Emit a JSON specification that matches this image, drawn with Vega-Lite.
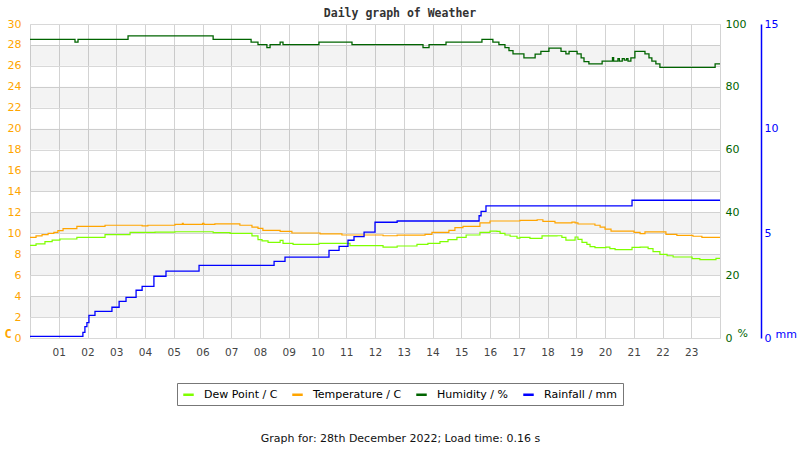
{
  "$schema": "https://vega.github.io/schema/vega-lite/v6.json",
  "width": 690,
  "height": 314,
  "autosize": {"type": "none"},
  "padding": {"left": 30, "top": 24, "right": 80, "bottom": 112},
  "background": "white",
  "config": {
    "view": {"stroke": "#d3d3d3"},
    "font": "DejaVu Sans",
    "axis": {"labelOverlap": false},
    "legend": {
      "orient": "none",
      "legendX": 147,
      "legendY": 359,
      "direction": "horizontal",
      "strokeColor": "#777777",
      "padding": 5,
      "symbolType": "stroke",
      "symbolStrokeWidth": 2.5,
      "symbolSize": 110,
      "labelFontSize": 11,
      "labelFont": "DejaVu Sans",
      "labelColor": "#000000",
      "columnPadding": 9,
      "labelOffset": 9
    }
  },
  "title": {
    "text": "Daily graph of Weather",
    "font": "DejaVu Sans Mono",
    "fontSize": 11.5,
    "fontWeight": "bold",
    "color": "#333333",
    "anchor": "middle",
    "dx": 25,
    "dy": 7,
    "offset": 6
  },
  "datasets": {
    "bands": [
      {"lo": 2, "hi": 4}, {"lo": 6, "hi": 8}, {"lo": 10, "hi": 12}, {"lo": 14, "hi": 16},
      {"lo": 18, "hi": 20}, {"lo": 22, "hi": 24}, {"lo": 26, "hi": 28}
    ],
    "temp": [
      {"h": 0, "v": 9.62}, {"h": 0.21, "v": 9.75}, {"h": 0.42, "v": 9.87}, {"h": 0.63, "v": 10.0},
      {"h": 0.83, "v": 10.1}, {"h": 0.97, "v": 10.25}, {"h": 1.15, "v": 10.45}, {"h": 1.63, "v": 10.67},
      {"h": 2.61, "v": 10.77}, {"h": 3.9, "v": 10.72}, {"h": 4.1, "v": 10.77}, {"h": 5.04, "v": 10.86},
      {"h": 5.3, "v": 10.95}, {"h": 5.33, "v": 10.86}, {"h": 6.0, "v": 10.95}, {"h": 6.05, "v": 10.86},
      {"h": 6.43, "v": 10.9}, {"h": 7.3, "v": 10.77}, {"h": 7.72, "v": 10.6}, {"h": 7.93, "v": 10.48},
      {"h": 8.1, "v": 10.29}, {"h": 8.7, "v": 10.19}, {"h": 9.11, "v": 10.03}, {"h": 10.09, "v": 9.94},
      {"h": 10.85, "v": 9.84}, {"h": 12.28, "v": 9.77}, {"h": 12.77, "v": 9.82}, {"h": 13.74, "v": 9.9},
      {"h": 13.98, "v": 10.1}, {"h": 14.57, "v": 10.29}, {"h": 14.78, "v": 10.54}, {"h": 15.06, "v": 10.67},
      {"h": 15.65, "v": 10.99}, {"h": 16.0, "v": 11.18}, {"h": 17.04, "v": 11.24}, {"h": 17.64, "v": 11.3},
      {"h": 17.84, "v": 11.15}, {"h": 18.26, "v": 10.99}, {"h": 18.85, "v": 11.08}, {"h": 18.96, "v": 10.99},
      {"h": 19.06, "v": 10.89}, {"h": 19.65, "v": 10.77}, {"h": 19.83, "v": 10.6}, {"h": 20.0, "v": 10.41},
      {"h": 20.21, "v": 10.22}, {"h": 21.01, "v": 10.1}, {"h": 21.22, "v": 9.97}, {"h": 21.39, "v": 10.13},
      {"h": 22.12, "v": 9.9}, {"h": 22.5, "v": 9.81}, {"h": 23.06, "v": 9.72}, {"h": 23.37, "v": 9.62},
      {"h": 24, "v": 9.62}
    ],
    "dew": [
      {"h": 0, "v": 8.85}, {"h": 0.21, "v": 9.0}, {"h": 0.52, "v": 9.2}, {"h": 0.77, "v": 9.35},
      {"h": 1.04, "v": 9.46}, {"h": 1.63, "v": 9.62}, {"h": 2.61, "v": 9.87}, {"h": 3.48, "v": 10.1},
      {"h": 4.35, "v": 10.12}, {"h": 5.04, "v": 10.15}, {"h": 6.37, "v": 10.06}, {"h": 6.96, "v": 10.0},
      {"h": 7.72, "v": 9.75}, {"h": 7.93, "v": 9.39}, {"h": 8.07, "v": 9.27}, {"h": 8.28, "v": 9.14},
      {"h": 8.7, "v": 9.33}, {"h": 8.8, "v": 9.05}, {"h": 9.15, "v": 8.95}, {"h": 10.05, "v": 9.05},
      {"h": 11.13, "v": 8.82}, {"h": 12.28, "v": 8.69}, {"h": 12.77, "v": 8.79}, {"h": 13.46, "v": 8.95},
      {"h": 13.84, "v": 9.05}, {"h": 14.26, "v": 9.2}, {"h": 14.54, "v": 9.39}, {"h": 14.85, "v": 9.62},
      {"h": 15.17, "v": 9.84}, {"h": 15.65, "v": 10.1}, {"h": 16.0, "v": 10.22}, {"h": 16.24, "v": 10.19},
      {"h": 16.35, "v": 10.0}, {"h": 16.52, "v": 9.84}, {"h": 16.7, "v": 9.72}, {"h": 16.94, "v": 9.55},
      {"h": 17.04, "v": 9.62}, {"h": 17.39, "v": 9.52}, {"h": 17.81, "v": 9.75}, {"h": 18.33, "v": 9.77},
      {"h": 18.5, "v": 9.62}, {"h": 18.64, "v": 9.36}, {"h": 18.96, "v": 9.65}, {"h": 19.06, "v": 9.43},
      {"h": 19.2, "v": 9.14}, {"h": 19.37, "v": 8.95}, {"h": 19.48, "v": 8.73}, {"h": 19.65, "v": 8.63},
      {"h": 20.03, "v": 8.69}, {"h": 20.17, "v": 8.53}, {"h": 20.35, "v": 8.44}, {"h": 20.94, "v": 8.66},
      {"h": 21.22, "v": 8.69}, {"h": 21.5, "v": 8.53}, {"h": 21.67, "v": 8.25}, {"h": 21.91, "v": 7.99},
      {"h": 22.16, "v": 7.86}, {"h": 22.37, "v": 7.74}, {"h": 23.03, "v": 7.58}, {"h": 23.3, "v": 7.48},
      {"h": 23.86, "v": 7.61}, {"h": 24, "v": 7.61}
    ],
    "hum": [
      {"h": 0, "v": 95.1}, {"h": 1.565, "v": 94.2}, {"h": 1.67, "v": 95.1}, {"h": 3.41, "v": 96.2},
      {"h": 6.37, "v": 95.1}, {"h": 7.69, "v": 94.2}, {"h": 7.93, "v": 93.4}, {"h": 8.24, "v": 92.5},
      {"h": 8.35, "v": 93.4}, {"h": 8.7, "v": 94.2}, {"h": 8.8, "v": 93.4}, {"h": 10.05, "v": 94.2},
      {"h": 11.2, "v": 93.4}, {"h": 13.67, "v": 92.5}, {"h": 13.88, "v": 93.4}, {"h": 14.47, "v": 94.2},
      {"h": 15.72, "v": 95.1}, {"h": 16.1, "v": 94.2}, {"h": 16.31, "v": 93.4}, {"h": 16.52, "v": 92.5},
      {"h": 16.66, "v": 91.5}, {"h": 16.8, "v": 90.5}, {"h": 17.18, "v": 89.2}, {"h": 17.57, "v": 90.4},
      {"h": 17.77, "v": 91.3}, {"h": 18.05, "v": 92.3}, {"h": 18.47, "v": 91.3}, {"h": 18.64, "v": 90.5},
      {"h": 18.75, "v": 91.3}, {"h": 19.03, "v": 90.5}, {"h": 19.17, "v": 89.2}, {"h": 19.27, "v": 88.0},
      {"h": 19.44, "v": 87.3}, {"h": 19.9, "v": 88.2}, {"h": 20.26, "v": 89.3}, {"h": 20.3, "v": 88.2},
      {"h": 20.45, "v": 89.0}, {"h": 20.5, "v": 88.2}, {"h": 20.6, "v": 89.0}, {"h": 20.67, "v": 88.5},
      {"h": 20.75, "v": 89.0}, {"h": 20.8, "v": 88.2}, {"h": 20.9, "v": 89.2}, {"h": 21.04, "v": 91.3},
      {"h": 21.39, "v": 90.5}, {"h": 21.53, "v": 89.2}, {"h": 21.63, "v": 88.2}, {"h": 21.77, "v": 87.3},
      {"h": 21.91, "v": 86.2}, {"h": 23.83, "v": 87.3}, {"h": 24, "v": 87.3}
    ],
    "rain": [
      {"h": 0, "v": 0.08}, {"h": 1.84, "v": 0.27}, {"h": 1.91, "v": 0.54}, {"h": 1.98, "v": 0.73},
      {"h": 2.05, "v": 1.08}, {"h": 2.26, "v": 1.27}, {"h": 2.85, "v": 1.47}, {"h": 3.1, "v": 1.75},
      {"h": 3.34, "v": 1.94}, {"h": 3.69, "v": 2.28}, {"h": 3.9, "v": 2.47}, {"h": 4.31, "v": 2.95},
      {"h": 4.73, "v": 3.19}, {"h": 5.88, "v": 3.47}, {"h": 8.49, "v": 3.66}, {"h": 8.87, "v": 3.86},
      {"h": 10.4, "v": 4.19}, {"h": 10.75, "v": 4.38}, {"h": 11.06, "v": 4.67}, {"h": 11.27, "v": 4.84},
      {"h": 11.62, "v": 5.06}, {"h": 12.0, "v": 5.53}, {"h": 12.77, "v": 5.59}, {"h": 15.62, "v": 5.84},
      {"h": 15.69, "v": 6.05}, {"h": 15.86, "v": 6.31}, {"h": 20.94, "v": 6.58}, {"h": 24, "v": 6.58}
    ]
  },
  "layer": [
    {
      "layer": [
        {
          "data": {"name": "bands"},
          "mark": {"type": "rect", "color": "#000000", "opacity": 0.048},
          "encoding": {
            "y": {
              "field": "lo", "type": "quantitative",
              "scale": {"domain": [0, 30], "nice": false, "zero": false},
              "axis": {
                "orient": "left", "values": [0, 2, 4, 6, 8, 10, 12, 14, 16, 18, 20, 22, 24, 26, 28, 30],
                "grid": true, "gridColor": "#d8d8d8", "ticks": false, "domain": false, "labelOverlap": false,
                "labelColor": "#ffa500", "labelFontSize": 11, "labelFont": "DejaVu Sans", "labelPadding": 9,
                "title": "C", "titleColor": "#ffa500", "titleAngle": 0, "titleX": -26, "titleY": 309,
                "titleFontSize": 12, "titleFont": "DejaVu Sans Mono", "titleFontWeight": "bold",
                "titleAlign": "left", "titleBaseline": "middle"
              }
            },
            "y2": {"field": "hi"}
          }
        },
        {
          "data": {"name": "dew"},
          "mark": {"type": "line", "interpolate": "step-after", "strokeWidth": 1.2},
          "encoding": {
            "x": {
              "field": "h", "type": "quantitative",
              "scale": {"domain": [0, 24], "nice": false, "zero": false},
              "axis": {
                "values": [1, 2, 3, 4, 5, 6, 7, 8, 9, 10, 11, 12, 13, 14, 15, 16, 17, 18, 19, 20, 21, 22, 23],
                "labelExpr": "datum.value < 10 ? '0' + datum.value : '' + datum.value",
                "grid": true, "gridColor": "#d3d3d3", "ticks": false, "domain": false, "labelOverlap": false,
                "labelColor": "#444444", "labelFontSize": 10.5, "labelFont": "DejaVu Sans", "labelPadding": 9,
                "title": "Graph for: 28th December 2022; Load time: 0.16 s",
                "titleFont": "DejaVu Sans", "titleFontWeight": "normal", "titleFontSize": 11,
                "titleColor": "#111111", "titlePadding": 75, "titleX": 370, "titleAlign": "center"
              }
            },
            "y": {
              "field": "v", "type": "quantitative",
              "axis": {
                "orient": "left", "values": [0, 2, 4, 6, 8, 10, 12, 14, 16, 18, 20, 22, 24, 26, 28, 30],
                "grid": true, "gridColor": "#d8d8d8", "ticks": false, "domain": false, "labelOverlap": false,
                "labelColor": "#ffa500", "labelFontSize": 11, "labelFont": "DejaVu Sans", "labelPadding": 9,
                "title": "C", "titleColor": "#ffa500", "titleAngle": 0, "titleX": -26, "titleY": 309,
                "titleFontSize": 12, "titleFont": "DejaVu Sans Mono", "titleFontWeight": "bold",
                "titleAlign": "left", "titleBaseline": "middle"
              }
            },
            "color": {
              "datum": "Dew Point / C",
              "type": "nominal",
              "scale": {
                "domain": ["Dew Point / C", "Temperature / C", "Humidity / %", "Rainfall / mm"],
                "range": ["#7fff00", "#ffa500", "#006400", "#0000ff"]
              },
              "legend": {"title": null}
            }
          }
        },
        {
          "data": {"name": "temp"},
          "mark": {"type": "line", "interpolate": "step-after", "strokeWidth": 1.2},
          "encoding": {
            "x": {
              "field": "h", "type": "quantitative",
              "axis": {
                "values": [1, 2, 3, 4, 5, 6, 7, 8, 9, 10, 11, 12, 13, 14, 15, 16, 17, 18, 19, 20, 21, 22, 23],
                "labelExpr": "datum.value < 10 ? '0' + datum.value : '' + datum.value",
                "grid": true, "gridColor": "#d3d3d3", "ticks": false, "domain": false, "labelOverlap": false,
                "labelColor": "#444444", "labelFontSize": 10.5, "labelFont": "DejaVu Sans", "labelPadding": 9,
                "title": "Graph for: 28th December 2022; Load time: 0.16 s",
                "titleFont": "DejaVu Sans", "titleFontWeight": "normal", "titleFontSize": 11,
                "titleColor": "#111111", "titlePadding": 75, "titleX": 370, "titleAlign": "center"
              }
            },
            "y": {
              "field": "v", "type": "quantitative",
              "axis": {
                "orient": "left", "values": [0, 2, 4, 6, 8, 10, 12, 14, 16, 18, 20, 22, 24, 26, 28, 30],
                "grid": true, "gridColor": "#d8d8d8", "ticks": false, "domain": false, "labelOverlap": false,
                "labelColor": "#ffa500", "labelFontSize": 11, "labelFont": "DejaVu Sans", "labelPadding": 9,
                "title": "C", "titleColor": "#ffa500", "titleAngle": 0, "titleX": -26, "titleY": 309,
                "titleFontSize": 12, "titleFont": "DejaVu Sans Mono", "titleFontWeight": "bold",
                "titleAlign": "left", "titleBaseline": "middle"
              }
            },
            "color": {"datum": "Temperature / C", "type": "nominal"}
          }
        }
      ]
    },
    {
      "data": {"name": "hum"},
      "mark": {"type": "line", "interpolate": "step-after", "strokeWidth": 1.3},
      "encoding": {
        "x": {
          "field": "h", "type": "quantitative",
          "axis": {
            "values": [1, 2, 3, 4, 5, 6, 7, 8, 9, 10, 11, 12, 13, 14, 15, 16, 17, 18, 19, 20, 21, 22, 23],
            "labelExpr": "datum.value < 10 ? '0' + datum.value : '' + datum.value",
            "grid": true, "gridColor": "#d3d3d3", "ticks": false, "domain": false, "labelOverlap": false,
            "labelColor": "#444444", "labelFontSize": 10.5, "labelFont": "DejaVu Sans", "labelPadding": 9,
            "title": "Graph for: 28th December 2022; Load time: 0.16 s",
            "titleFont": "DejaVu Sans", "titleFontWeight": "normal", "titleFontSize": 11,
            "titleColor": "#111111", "titlePadding": 75, "titleX": 370, "titleAlign": "center"
          }
        },
        "y": {
          "field": "v", "type": "quantitative",
          "scale": {"domain": [0, 100], "nice": false},
          "axis": {
            "orient": "right", "values": [0, 20, 40, 60, 80, 100],
            "grid": false, "ticks": false, "domain": false, "labelOverlap": false,
            "labelColor": "#006400", "labelFontSize": 11, "labelFont": "DejaVu Sans", "labelPadding": 5,
            "title": "%", "titleColor": "#006400", "titleAngle": 0, "titleX": 17, "titleY": 309,
            "titleFontSize": 11, "titleFont": "DejaVu Sans", "titleFontWeight": "normal",
            "titleAlign": "left", "titleBaseline": "middle"
          }
        },
        "color": {"datum": "Humidity / %", "type": "nominal"}
      }
    },
    {
      "data": {"name": "rain"},
      "mark": {"type": "line", "interpolate": "step-after", "strokeWidth": 1.3},
      "encoding": {
        "x": {
          "field": "h", "type": "quantitative",
          "axis": {
            "values": [1, 2, 3, 4, 5, 6, 7, 8, 9, 10, 11, 12, 13, 14, 15, 16, 17, 18, 19, 20, 21, 22, 23],
            "labelExpr": "datum.value < 10 ? '0' + datum.value : '' + datum.value",
            "grid": true, "gridColor": "#d3d3d3", "ticks": false, "domain": false, "labelOverlap": false,
            "labelColor": "#444444", "labelFontSize": 10.5, "labelFont": "DejaVu Sans", "labelPadding": 9,
            "title": "Graph for: 28th December 2022; Load time: 0.16 s",
            "titleFont": "DejaVu Sans", "titleFontWeight": "normal", "titleFontSize": 11,
            "titleColor": "#111111", "titlePadding": 75, "titleX": 370, "titleAlign": "center"
          }
        },
        "y": {
          "field": "v", "type": "quantitative",
          "scale": {"domain": [0, 15], "nice": false},
          "axis": {
            "orient": "right", "offset": 41, "values": [0, 5, 10, 15],
            "grid": false, "ticks": false, "domain": true, "domainColor": "#0000ff", "domainWidth": 1.5,
            "labelOverlap": false,
            "labelColor": "#0000ff", "labelFontSize": 11, "labelFont": "DejaVu Sans", "labelPadding": 3,
            "title": "mm", "titleColor": "#0000ff", "titleAngle": 0, "titleX": 14, "titleY": 310,
            "titleFontSize": 11, "titleFont": "DejaVu Sans", "titleFontWeight": "normal",
            "titleAlign": "left", "titleBaseline": "middle"
          }
        },
        "color": {"datum": "Rainfall / mm", "type": "nominal"}
      }
    }
  ],
  "resolve": {"scale": {"y": "independent"}}
}
